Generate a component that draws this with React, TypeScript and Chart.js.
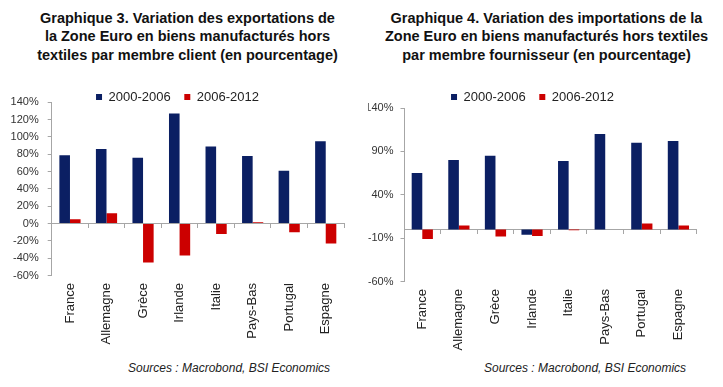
import React, { useEffect, useRef } from "react";
import { Chart, registerables } from "chart.js";

Chart.register(...registerables);

const FONT = '"Liberation Sans", Arial, Helvetica, sans-serif';
const GREY = "#a6a6a6";

const categories = ["France", "Allemagne", "Grèce", "Irlande", "Italie", "Pays-Bas", "Portugal", "Espagne"];
const seriesLabels = ["2000-2006", "2006-2012"];
const seriesColors = ["#0b1f63", "#cc0000"];

// Graphique 3 : exportations
const exports2000_2006 = [79, 86, 76, 127, 89, 78, 61, 95];
const exports2006_2012 = [5, 12, -45, -37, -12, 1.5, -10, -23];
const exportsTicks = [-60, -40, -20, 0, 20, 40, 60, 80, 100, 120, 140];

// Graphique 4 : importations
const imports2000_2006 = [65, 80, 85, -6, 79, 110, 100, 102];
const imports2006_2012 = [-11, 4.5, -8, -7.5, -1, 0, 7, 4.5];
const importsTicks = [-60, -10, 40, 90, 140];

const title3 = [
  "Graphique 3. Variation des exportations de",
  "la Zone Euro en biens manufacturés hors",
  "textiles par membre client (en pourcentage)",
];
const title4 = [
  "Graphique 4. Variation des importations de la",
  "Zone Euro en biens manufacturés hors textiles",
  "par membre fournisseur (en pourcentage)",
];
const sourceText = "Sources : Macrobond, BSI Economics";

type Spec = {
  a: number[];
  b: number[];
  ticks: number[];
  left: number;
  top: number;
  width: number;
  height: number;
  padL: number;
  padR: number;
  yWidth: number;
  legendMax: number;
  tickLen: number;
  tickPad: number;
};

function BarChart({ spec }: { spec: Spec }) {
  const ref = useRef<HTMLCanvasElement | null>(null);
  useEffect(() => {
    if (!ref.current) return;
    const t = spec.ticks;
    const chart = new Chart(ref.current, {
      type: "bar",
      data: {
        labels: categories,
        datasets: [
          { label: seriesLabels[0], data: spec.a, backgroundColor: seriesColors[0], borderWidth: 0 },
          { label: seriesLabels[1], data: spec.b, backgroundColor: seriesColors[1], borderWidth: 0 },
        ],
      },
      options: {
        animation: false,
        responsive: false,
        devicePixelRatio: 1,
        layout: { padding: { left: spec.padL, right: spec.padR, top: 0, bottom: 0 } },
        datasets: { bar: { categoryPercentage: 0.58, barPercentage: 1 } },
        plugins: {
          legend: {
            position: "top",
            maxHeight: spec.legendMax,
            labels: {
              boxWidth: 6,
              boxHeight: 6,
              padding: 13.6,
              color: "#222",
              font: { family: FONT, size: 13 },
            },
          },
          tooltip: { enabled: false },
          title: { display: false },
        },
        scales: {
          x: {
            type: "category",
            position: "bottom",
            offset: true,
            grid: { display: false, drawTicks: false },
            border: { display: false },
            ticks: {
              minRotation: 90,
              maxRotation: 90,
              autoSkip: false,
              padding: 7.5,
              color: "#222",
              font: { family: FONT, size: 13 },
            },
            afterFit: (s: any) => {
              s.height = 75.5;
            },
          },
          x2: {
            type: "category",
            position: { y: 0 },
            offset: true,
            grid: {
              offset: true,
              drawOnChartArea: false,
              drawTicks: true,
              tickLength: 4,
              color: GREY,
              tickColor: GREY,
            },
            border: { display: true, color: GREY, width: 1 },
            ticks: { display: false },
            afterFit: (s: any) => {
              s.height = 0;
            },
          },
          y: {
            min: t[0],
            max: t[t.length - 1],
            afterBuildTicks: (s: any) => {
              s.ticks = t.map((v) => ({ value: v }));
            },
            grid: {
              drawOnChartArea: false,
              drawTicks: true,
              tickLength: spec.tickLen,
              color: GREY,
              tickColor: GREY,
            },
            border: { display: true, color: GREY },
            ticks: {
              padding: spec.tickPad,
              color: "#333",
              font: { family: FONT, size: 11 },
              callback: (v: any) => v + "%",
            },
            afterFit: (s: any) => {
              s.width = spec.yWidth;
            },
          },
        },
      } as any,
    });
    return () => chart.destroy();
  }, [spec]);
  return (
    <canvas
      ref={ref}
      width={spec.width}
      height={spec.height}
      style={{
        position: "absolute",
        left: spec.left,
        top: spec.top,
        width: spec.width,
        height: spec.height,
        display: "block",
      }}
    />
  );
}

const leftSpec: Spec = {
  a: exports2000_2006,
  b: exports2006_2012,
  ticks: exportsTicks,
  left: 0,
  top: 77,
  width: 352,
  height: 274,
  padL: 11,
  padR: 8,
  yWidth: 40.7,
  legendMax: 25.3,
  tickLen: 4,
  tickPad: 9,
};

const rightSpec: Spec = {
  a: imports2000_2006,
  b: imports2006_2012,
  ticks: importsTicks,
  left: 360,
  top: 77,
  width: 345,
  height: 280,
  padL: 8.3,
  padR: 8.3,
  yWidth: 35.7,
  legendMax: 31,
  tickLen: 3.5,
  tickPad: 7,
};

const titleStyle: React.CSSProperties = {
  position: "absolute",
  top: 8.5,
  textAlign: "center",
  fontFamily: FONT,
  fontWeight: "bold",
  fontSize: 14.5,
  lineHeight: "18.5px",
  color: "#111",
  whiteSpace: "nowrap",
};

const sourceStyle: React.CSSProperties = {
  position: "absolute",
  top: 361,
  fontFamily: FONT,
  fontStyle: "italic",
  fontSize: 12,
  lineHeight: "14px",
  color: "#222",
  whiteSpace: "nowrap",
};

export default function App() {
  return (
    <div
      style={{
        position: "fixed",
        left: 0,
        top: 0,
        width: 723,
        height: 387,
        background: "#fff",
        overflow: "hidden",
      }}
    >
      <div style={{ ...titleStyle, left: 0, width: 375 }}>
        {title3.map((l, i) => (
          <div key={i}>{l}</div>
        ))}
      </div>
      <div style={{ ...titleStyle, left: 370, width: 353 }}>
        {title4.map((l, i) => (
          <div key={i}>{l}</div>
        ))}
      </div>
      <BarChart spec={leftSpec} />
      <BarChart spec={rightSpec} />
      <div style={{ ...sourceStyle, left: 128 }}>{sourceText}</div>
      <div style={{ ...sourceStyle, left: 484 }}>{sourceText}</div>
    </div>
  );
}
